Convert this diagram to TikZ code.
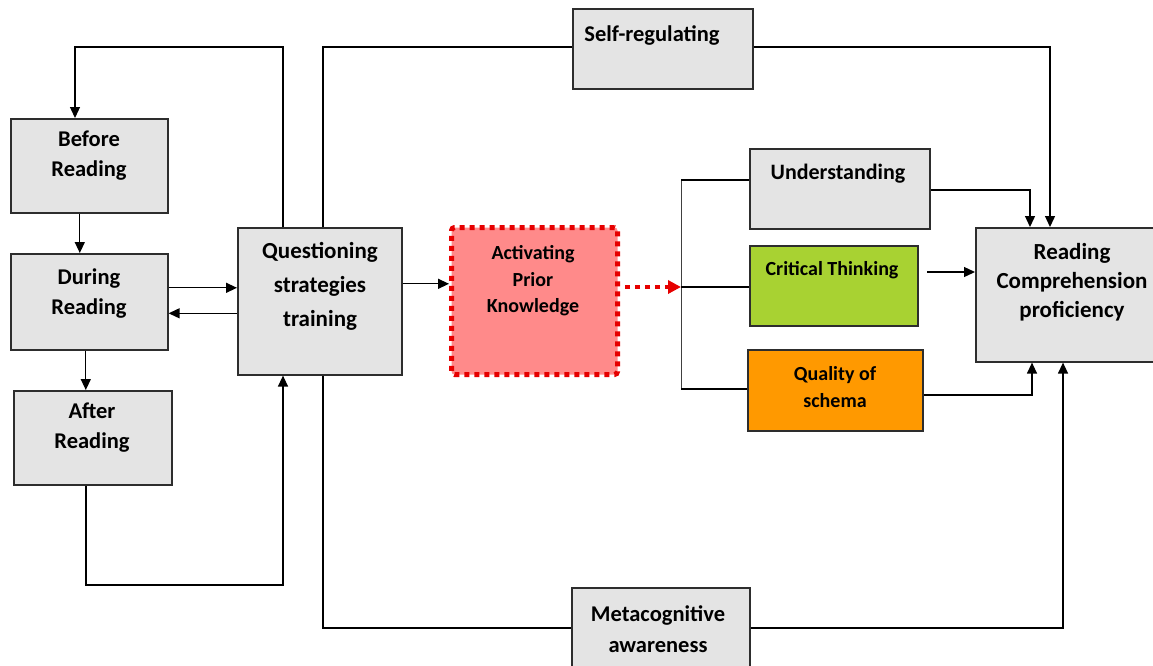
\documentclass[tikz,border=0pt]{standalone}
\usepackage{fontspec}
\setmainfont{Carlito}
\usetikzlibrary{arrows.meta}
\definecolor{boxgray}{RGB}{228,228,228}
\definecolor{actfill}{RGB}{255,138,138}
\definecolor{actedge}{RGB}{230,0,0}
\definecolor{ctgreen}{RGB}{168,210,50}
\definecolor{qorange}{RGB}{255,153,0}
\definecolor{edgegray}{RGB}{45,45,45}
\begin{document}
\begin{tikzpicture}[x=1pt,y=-1pt,
  box/.style={draw=edgegray, line width=1.6pt, fill=boxgray, anchor=north west, inner sep=0pt},
  txt/.style={font=\fontsize{22.5}{30}\selectfont\bfseries, align=center, inner sep=0pt, text=black},
  stxt/.style={font=\fontsize{20}{26.5}\selectfont\bfseries, align=center, inner sep=0pt, text=black},
  conn/.style={line width=1.3pt, black},
  arr/.style={conn, -{Triangle[length=11pt,width=10pt]}},
]
\useasboundingbox (0,0) rectangle (1153,665);

% boxes
\node[box, minimum width=157pt, minimum height=94pt] (before) at (10,118) {};
\node[box, minimum width=157pt, minimum height=96pt] (during) at (10,253) {};
\node[box, minimum width=158pt, minimum height=94pt] (after) at (13,390) {};
\node[box, minimum width=164pt, minimum height=147pt] (q) at (237,227) {};
\node[box, draw=actedge, line width=5pt, dash pattern=on 5pt off 5pt, fill=actfill, rounded corners=3pt, minimum width=166pt, minimum height=147pt] (act) at (449,225) {};
\node[box, minimum width=180pt, minimum height=80pt] (sr) at (572,8) {};
\node[box, minimum width=180pt, minimum height=80pt] (und) at (749,148) {};
\node[box, fill=ctgreen, minimum width=168pt, minimum height=80pt] (ct) at (749,245) {};
\node[box, fill=qorange, minimum width=175pt, minimum height=81pt] (qual) at (747,349) {};
\node[box, minimum width=185pt, minimum height=134pt] (read) at (975,227) {};
\node[box, minimum width=178pt, minimum height=86pt] (meta) at (571,587) {};

% texts
\node[txt] (beforet) at (89,156) {Before\\Reading};
\node[txt] (duringt) at (89,293.5) {During\\Reading};
\node[txt] (aftert) at (92,428) {After\\Reading};
\node[txt, font=\fontsize{23}{34}\selectfont\bfseries] (qt) at (320,286) {Questioning\\strategies\\training};
\node[stxt] (actt) at (533,281) {Activating\\Prior\\Knowledge};
\node[txt] (srt) at (652,35) {Self-regulating};
\node[txt, font=\fontsize{22}{30}\selectfont\bfseries] (undt) at (838,174) {Understanding};
\node[stxt] (ctt) at (832,270) {Critical Thinking};
\node[stxt, font=\fontsize{20}{27}\selectfont\bfseries] (qualt) at (835,387) {Quality of\\schema};
\node[txt, font=\fontsize{23}{29}\selectfont\bfseries] (readt) at (1072,282) {Reading\\Comprehension\\proficiency};
\node[txt, font=\fontsize{22.5}{31}\selectfont\bfseries] (metat) at (658,629) {Metacognitive\\awareness};

% bend coordinates
\coordinate (tl) at (75,47);
\coordinate (qtl) at (283,47);
\coordinate (qtr) at (323,47);
\coordinate (qbl) at (283,585);
\coordinate (abl) at (86,585);
\coordinate (qbr) at (323,628);
\coordinate (bt) at (681,180);
\coordinate (bm) at (681,287);
\coordinate (bb) at (681,389);
\coordinate (ds) at (625,287);
\coordinate (ctx) at (927,272);
\coordinate (u1) at (1030,190);
\coordinate (s1) at (1050,47);
\coordinate (q1) at (1032,395);
\coordinate (m1) at (1063,628);

% left cluster
\draw[arr] ([xshift=-9.5pt]before.south) -- ([xshift=-9.5pt]before.south |- during.north);
\draw[arr] ([xshift=-3.5pt]during.south) -- ([xshift=-3.5pt]during.south |- after.north);
\draw[arr] ([yshift=14pt]during.east) -- ([yshift=14pt]during.east -| q.west);
\draw[arr] ([yshift=-12pt]q.west) -- ([yshift=-12pt]q.west -| during.east);
\draw[arr] (qtl |- q.north) -- (qtl) -- (tl) -- (tl |- before.north);
\draw[arr] (abl |- after.south) -- (abl) -- (qbl) -- (qbl |- q.south);

% questioning outputs
\draw[conn] (qtr |- q.north) -- (qtr) -- (qtr -| sr.west);
\draw[conn] (qbr |- q.south) -- (qbr) -- (qbr -| meta.west);
\draw[arr] ([yshift=17.5pt]q.east) -- ([yshift=17.5pt]q.east -| act.west);

% activating to bracket
\draw[actedge, line width=4pt, dash pattern=on 5pt off 5pt, -{Triangle[length=13pt,width=13pt]}] (ds) -- (bm);
\draw[line width=0.9pt, black!75] (bt) -- (bb);
\draw[conn] (bt) -- (bt -| und.west);
\draw[conn] (bm) -- (bm -| ct.west);
\draw[conn] (bb) -- (bb -| qual.west);

% to reading comprehension
\draw[arr] (und.east |- u1) -- (u1) -- (u1 |- read.north);
\draw[arr] (sr.east |- s1) -- (s1) -- (s1 |- read.north);
\draw[arr] (ctx) -- (ctx -| read.west);
\draw[arr] (qual.east |- q1) -- (q1) -- (q1 |- read.south);
\draw[arr] (meta.east |- m1) -- (m1) -- (m1 |- read.south);
\end{tikzpicture}
\end{document}
